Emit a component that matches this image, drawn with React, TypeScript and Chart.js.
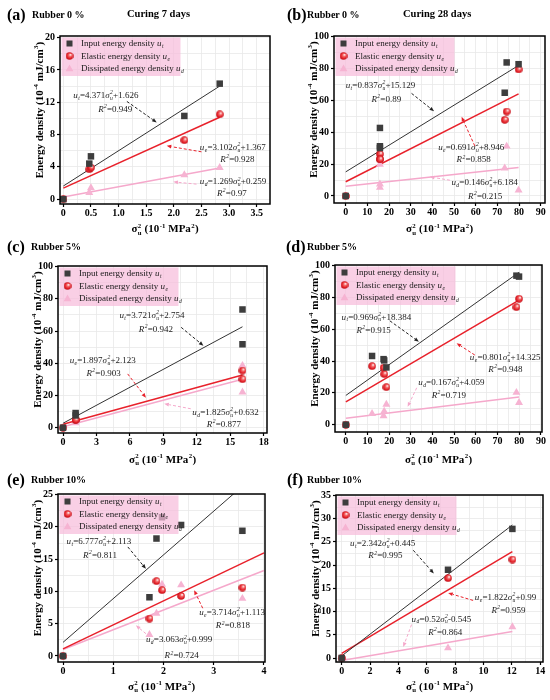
import React, { useEffect, useRef } from 'react';
import { Chart, registerables, Plugin } from 'chart.js';

Chart.register(...registerables);

// ---------- data ----------
// (a) Rubber 0 %, curing 7 days
const aStress = [0, 0.47, 0.5, 2.19, 2.83];
const aInput = [0, 4.4, 5.3, 10.3, 14.3];
const aElastic = [0, 3.7, 3.9, 7.3, 10.5];
const aDissipated = [0, 0.8, 1.4, 3.0, 3.9];
const aSlope = [4.371, 3.102, 1.269];
const aIntercept = [1.626, 1.367, 0.259];
const aR2 = ['0.949', '0.928', '0.97'];
const aXTicks = [0, 0.5, 1, 1.5, 2, 2.5, 3, 3.5];
const aYTicks = [0, 4, 8, 12, 16, 20];

// (b) Rubber 0 %, curing 28 days
const bStress = [0, 15.8, 15.8, 15.8, 73.4, 74.3, 79.8];
const bInput = [0, 42.7, 31.2, 30.1, 64.8, 83.8, 82.7];
const bElastic = [0, 23.2, 26.3, 23.0, 47.8, 53.0, 79.4];
const bDissipated = [0, 19.8, 5.3, 7.4, 17.5, 31.2, 3.6];
const bSlope = [0.837, 0.691, 0.146];
const bIntercept = [15.129, 8.946, 6.184];
const bR2 = ['0.89', '0.858', '0.215'];
const bXTicks = [0, 10, 20, 30, 40, 50, 60, 70, 80, 90];
const bYTicks = [0, 20, 40, 60, 80, 100];

// (c) Rubber 5%, curing 7 days
const cStress = [0, 1.13, 1.13, 16.1, 16.1];
const cInput = [0, 9.1, 7.6, 73.4, 51.8];
const cElastic = [0, 5.0, 4.8, 35.5, 30.1];
const cDissipated = [0, 4.0, 2.9, 38.6, 22.1];
const cSlope = [3.721, 1.897, 1.825];
const cIntercept = [2.754, 2.123, 0.632];
const cR2 = ['0.942', '0.903', '0.877'];
const cXTicks = [0, 3, 6, 9, 12, 15, 18];
const cYTicks = [0, 20, 40, 60, 80, 100];

// (d) Rubber 5%, curing 28 days
const dStress = [0, 12.1, 17.4, 17.7, 18.7, 78.7, 79.9];
const dInput = [0, 43.2, 41.2, 40.4, 36.0, 93.7, 93.1];
const dElastic = [0, 36.8, 35.8, 31.8, 23.6, 73.9, 79.2];
const dDissipated = [0, 6.9, 5.5, 8.4, 12.8, 20.2, 13.9];
const dSlope = [0.969, 0.801, 0.167];
const dIntercept = [18.384, 14.325, 4.059];
const dR2 = ['0.915', '0.948', '0.719'];
const dXTicks = [0, 10, 20, 30, 40, 50, 60, 70, 80, 90];
const dYTicks = [0, 20, 40, 60, 80, 100];

// (e) Rubber 10%, curing 7 days
const eStress = [0, 1.72, 1.86, 1.97, 2.35, 3.57];
const eInput = [0, 9.1, 18.2, 21.5, 20.3, 19.4];
const eElastic = [0, 5.8, 11.6, 10.2, 9.3, 10.6];
const eDissipated = [0, 3.3, 6.6, 11.1, 11.0, 8.9];
const eSlope = [6.777, 3.714, 3.063];
const eIntercept = [2.113, 1.113, 0.999];
const eR2 = ['0.811', '0.818', '0.724'];
const eXTicks = [0, 1, 2, 3, 4];
const eYTicks = [0, 5, 10, 15, 20, 25];

// (f) Rubber 10%, curing 28 days
const fStress = [0, 7.5, 12.04];
const fInput = [0, 19.0, 27.8];
const fElastic = [0, 17.2, 21.2];
const fDissipated = [0, 2.15, 6.7];
const fSlope = [2.342, 1.822, 0.52];
const fIntercept = [0.445, 0.99, -0.545];
const fR2 = ['0.995', '0.959', '0.864'];
const fXTicks = [0, 2, 4, 6, 8, 10, 12, 14];
const fYTicks = [0, 5, 10, 15, 20, 25, 30, 35];

const seriesNames = ['Input energy density ', 'Elastic energy density ', 'Dissipated energy density '];
const seriesSubs = ['t', 'e', 'd'];

// ---------- styling ----------
const SERIF = "'Liberation Serif', 'Times New Roman', serif";
const BLACK = '#3d3d3d';
const RED = '#e8212b';
const PINK = '#f6b3d2';
const PINK_LINE = '#f5a8cb';
const GRID = '#e8e8e8';
const NOTE_SIZE = 9;
const LEGEND_SIZE = 9;

interface Note {
  eq: [number, number];
  r2: [number, number];
  arrow: [number, number, number, number];
}

interface Geo {
  left: number; top: number; h: number;
  plotL: number; plotR: number; plotT: number; plotB: number;
  xTitleY: number;
}

interface Panel {
  tag: string; tagX: number; rubber: string; rubberX: number;
  curing?: string; curingX?: number;
  x: number[]; input: number[]; elastic: number[]; dissipated: number[];
  slope: number[]; intercept: number[]; r2: string[];
  fitEnd: number;
  xMin: number; xMax: number; yMin: number; yMax: number;
  xTicks: number[]; yTicks: number[]; xDec: number;
  geo: Geo;
  notes: Note[];
}

const panels: Panel[] = [
  {
    tag: '(a)', tagX: 7, rubber: 'Rubber 0 %', rubberX: 32, curing: 'Curing 7 days', curingX: 127,
    x: aStress, input: aInput, elastic: aElastic, dissipated: aDissipated,
    slope: aSlope, intercept: aIntercept, r2: aR2, fitEnd: 2.83,
    xMin: -0.06, xMax: 3.74, yMin: -0.6, yMax: 20.2, xTicks: aXTicks, yTicks: aYTicks, xDec: 1,
    geo: { left: 0, top: 0, h: 240, plotL: 60, plotR: 270, plotT: 36, plotB: 204, xTitleY: 228.5 },
    notes: [
      { eq: [0.18, 12.9], r2: [0.63, 11.2], arrow: [1.15, 12.1, 1.69, 9.5] },
      { eq: [2.47, 6.5], r2: [2.84, 4.95], arrow: [2.5, 5.86, 1.87, 6.6] },
      { eq: [2.47, 2.2], r2: [2.78, 0.8], arrow: [2.41, 1.86, 1.99, 2.14] },
    ],
  },
  {
    tag: '(b)', tagX: 12, rubber: 'Rubber 0 %', rubberX: 32, curing: 'Curing 28 days', curingX: 128,
    x: bStress, input: bInput, elastic: bElastic, dissipated: bDissipated,
    slope: bSlope, intercept: bIntercept, r2: bR2, fitEnd: 79.8,
    xMin: -5.4, xMax: 92, yMin: -4.4, yMax: 100.4, xTicks: bXTicks, yTicks: bYTicks, xDec: 0,
    geo: { left: 275, top: 0, h: 240, plotL: 59, plotR: 270, plotT: 36, plotB: 203, xTitleY: 228.5 },
    notes: [
      { eq: [0, 69.6], r2: [11.9, 60.8], arrow: [30.4, 64.4, 40.8, 53.2] },
      { eq: [42.7, 30.8], r2: [51.2, 22.9], arrow: [59.6, 31.4, 53.5, 49.7] },
      { eq: [48.8, 8.8], r2: [56.5, -0.2], arrow: [48.1, 9.9, 38.8, 12] },
    ],
  },
  {
    tag: '(c)', tagX: 7, rubber: 'Rubber 5%', rubberX: 31,
    x: cStress, input: cInput, elastic: cElastic, dissipated: cDissipated,
    slope: cSlope, intercept: cIntercept, r2: cR2, fitEnd: 16.1,
    xMin: -0.45, xMax: 18.3, yMin: -3.3, yMax: 100.4, xTicks: cXTicks, yTicks: cYTicks, xDec: 0,
    geo: { left: 0, top: 232, h: 240, plotL: 58, plotR: 267, plotT: 34, plotB: 201, xTitleY: 227 },
    notes: [
      { eq: [5.06, 70.1], r2: [6.8, 61.2], arrow: [10.6, 62.3, 12.6, 50.9] },
      { eq: [0.6, 42.1], r2: [2.1, 34.2], arrow: [5.8, 33.4, 7.44, 18.6] },
      { eq: [11.6, 9.7], r2: [12.9, 2.1], arrow: [11.46, 11.75, 9.08, 14.85] },
    ],
  },
  {
    tag: '(d)', tagX: 11, rubber: 'Rubber 5%', rubberX: 32,
    x: dStress, input: dInput, elastic: dElastic, dissipated: dDissipated,
    slope: dSlope, intercept: dIntercept, r2: dR2, fitEnd: 79.9,
    xMin: -5, xMax: 90.5, yMin: -4.6, yMax: 100.4, xTicks: dXTicks, yTicks: dYTicks, xDec: 0,
    geo: { left: 275, top: 232, h: 240, plotL: 60, plotR: 267, plotT: 33, plotB: 200, xTitleY: 227 },
    notes: [
      { eq: [-2, 68], r2: [4.9, 59.6], arrow: [20.3, 65.3, 33.7, 52.2] },
      { eq: [57.2, 42.7], r2: [65.7, 35], arrow: [59.5, 43.8, 51.1, 51.2] },
      { eq: [33.4, 27], r2: [39.6, 18.9], arrow: [32.7, 23.2, 28.5, 11.2] },
    ],
  },
  {
    tag: '(e)', tagX: 7, rubber: 'Rubber 10%', rubberX: 31,
    x: eStress, input: eInput, elastic: eElastic, dissipated: eDissipated,
    slope: eSlope, intercept: eIntercept, r2: eR2, fitEnd: 4,
    xMin: -0.1, xMax: 4.02, yMin: -0.93, yMax: 25.1, xTicks: eXTicks, yTicks: eYTicks, xDec: 0,
    geo: { left: 0, top: 465, h: 235, plotL: 58, plotR: 265, plotT: 29, plotB: 197, xTitleY: 221 },
    notes: [
      { eq: [0.07, 17.8], r2: [0.4, 15.7], arrow: [1.29, 16.9, 1.65, 13.5] },
      { eq: [2.71, 6.8], r2: [3.04, 4.75], arrow: [2.78, 7.4, 2.61, 10.2] },
      { eq: [1.65, 2.58], r2: [2.02, 0.1], arrow: [1.65, 3.46, 1.45, 4.75] },
    ],
  },
  {
    tag: '(f)', tagX: 12, rubber: 'Rubber 10%', rubberX: 32,
    x: fStress, input: fInput, elastic: fElastic, dissipated: fDissipated,
    slope: fSlope, intercept: fIntercept, r2: fR2, fitEnd: 12.04,
    xMin: -0.4, xMax: 14.2, yMin: -0.86, yMax: 35.1, xTicks: fXTicks, yTicks: fYTicks, xDec: 0,
    geo: { left: 275, top: 465, h: 235, plotL: 61, plotR: 268, plotT: 30, plotB: 197, xTitleY: 221 },
    notes: [
      { eq: [0.59, 24.8], r2: [1.88, 22.1], arrow: [5.05, 23.2, 6.5, 18.2] },
      { eq: [9.39, 13.1], r2: [10.56, 10.3], arrow: [9.27, 12.4, 7.51, 14] },
      { eq: [4.93, 8.5], r2: [6.1, 5.6], arrow: [4.93, 7.2, 4.34, 2.37] },
    ],
  },
];

// ---------- rich text helpers ----------
interface Seg { t: string; i?: boolean; sup?: string; sub?: string }

const fontStr = (size: number, bold: boolean, italic: boolean) =>
  `${italic ? 'italic ' : ''}${bold ? 'bold ' : ''}${size}px ${SERIF}`;

function richWidth(ctx: CanvasRenderingContext2D, segs: Seg[], size: number, bold: boolean) {
  let w = 0;
  for (const s of segs) {
    ctx.font = fontStr(size, bold, !!s.i);
    w += ctx.measureText(s.t).width;
    ctx.font = fontStr(size * 0.62, bold, !!s.i);
    let sw = 0;
    if (s.sup) sw = Math.max(sw, ctx.measureText(s.sup).width);
    if (s.sub) sw = Math.max(sw, ctx.measureText(s.sub).width);
    if (sw) w += sw + 0.6;
  }
  return w;
}

function drawRich(
  ctx: CanvasRenderingContext2D, segs: Seg[], x: number, y: number,
  size: number, color: string, bold: boolean, align: 'left' | 'center'
) {
  ctx.save();
  ctx.fillStyle = color;
  ctx.textAlign = 'left';
  ctx.textBaseline = 'alphabetic';
  const base = y + size * 0.33;
  let cx = align === 'center' ? x - richWidth(ctx, segs, size, bold) / 2 : x;
  for (const s of segs) {
    ctx.font = fontStr(size, bold, !!s.i);
    ctx.fillText(s.t, cx, base);
    cx += ctx.measureText(s.t).width;
    ctx.font = fontStr(size * 0.62, bold, !!s.i);
    let sw = 0;
    if (s.sup) {
      ctx.fillText(s.sup, cx + 0.4, base - size * 0.42);
      sw = Math.max(sw, ctx.measureText(s.sup).width);
    }
    if (s.sub) {
      ctx.fillText(s.sub, cx + 0.4, base + size * 0.22);
      sw = Math.max(sw, ctx.measureText(s.sub).width);
    }
    if (sw) cx += sw + 0.6;
  }
  ctx.restore();
}

function drawArrow(ctx: CanvasRenderingContext2D, x1: number, y1: number, x2: number, y2: number, color: string) {
  const ang = Math.atan2(y2 - y1, x2 - x1);
  const hl = 5;
  ctx.save();
  ctx.strokeStyle = color;
  ctx.fillStyle = color;
  ctx.lineWidth = 1;
  ctx.setLineDash([3, 2]);
  ctx.beginPath();
  ctx.moveTo(x1, y1);
  ctx.lineTo(x2 - hl * Math.cos(ang), y2 - hl * Math.sin(ang));
  ctx.stroke();
  ctx.setLineDash([]);
  ctx.beginPath();
  ctx.moveTo(x2, y2);
  ctx.lineTo(x2 - hl * Math.cos(ang - 0.38), y2 - hl * Math.sin(ang - 0.38));
  ctx.lineTo(x2 - hl * Math.cos(ang + 0.38), y2 - hl * Math.sin(ang + 0.38));
  ctx.closePath();
  ctx.fill();
  ctx.restore();
}

function makeSphere(d = 8) {
  const c = document.createElement('canvas');
  c.width = d;
  c.height = d;
  const g = c.getContext('2d')!;
  const grad = g.createRadialGradient(d * 0.64, d * 0.34, 0.3, d / 2, d / 2, d / 2);
  grad.addColorStop(0, '#ffffff');
  grad.addColorStop(0.28, '#f57070');
  grad.addColorStop(0.7, '#e41c24');
  grad.addColorStop(1, '#b5121a');
  g.fillStyle = grad;
  g.beginPath();
  g.arc(d / 2, d / 2, d / 2 - 0.2, 0, Math.PI * 2);
  g.fill();
  return c;
}

const withMinor = (major: number[]) => {
  const out: number[] = [];
  major.forEach((v, i) => {
    out.push(v);
    if (i < major.length - 1) out.push((v + major[i + 1]) / 2);
  });
  return out;
};
const isMajor = (major: number[], v: number) => major.some(m => Math.abs(m - v) < 1e-9);

const fmtNum = (v: number) => (v < 0 ? '-' + Math.abs(v) : '+' + v);

function eqSegs(p: Panel, k: number): Seg[] {
  return [
    { t: 'u', i: true, sub: seriesSubs[k] },
    { t: '=' + p.slope[k] },
    { t: 'σ', i: true, sup: '2', sub: 'u' },
    { t: fmtNum(p.intercept[k]) },
  ];
}

const overlay = (p: Panel, sphere: HTMLCanvasElement): Plugin<'scatter'> => ({
  id: 'overlay',
  afterDatasetsDraw(chart) {
    const { ctx, chartArea: a, scales } = chart;
    const X = (v: number) => scales.x.getPixelForValue(v);
    const Y = (v: number) => scales.y.getPixelForValue(v);
    const arrowColors = ['#222222', RED, PINK_LINE];

    // fit equations and arrows
    p.notes.forEach((n, k) => {
      drawArrow(ctx, X(n.arrow[0]), Y(n.arrow[1]), X(n.arrow[2]), Y(n.arrow[3]), arrowColors[k]);
      drawRich(ctx, eqSegs(p, k), X(n.eq[0]), Y(n.eq[1]), NOTE_SIZE, '#1a1a1a', false, 'left');
      drawRich(ctx, [{ t: 'R', i: true, sup: '2' }, { t: '=' + p.r2[k] }], X(n.r2[0]), Y(n.r2[1]), NOTE_SIZE, '#1a1a1a', false, 'left');
    });

    // legend box
    ctx.save();
    ctx.fillStyle = 'rgba(246,188,219,0.72)';
    ctx.fillRect(a.left + 1.5, a.top + 1.5, 119, 38.5);
    const rows = [7.5, 20, 32.3];
    const mx = a.left + 9.5;
    rows.forEach((r, k) => {
      const yy = a.top + r;
      if (k === 0) {
        ctx.fillStyle = BLACK;
        ctx.fillRect(mx - 3, yy - 3, 6, 6);
      } else if (k === 1) {
        ctx.drawImage(sphere, mx - sphere.width / 2, yy - sphere.height / 2);
      } else {
        ctx.fillStyle = PINK;
        ctx.beginPath();
        const rr = 4.5;
        for (let j = 0; j < 3; j++) {
          const ang = (j * 2 * Math.PI) / 3;
          const px = mx + Math.sin(ang) * rr;
          const py = yy + 0.8 - Math.cos(ang) * rr;
          if (j === 0) ctx.moveTo(px, py); else ctx.lineTo(px, py);
        }
        ctx.closePath();
        ctx.fill();
      }
      drawRich(ctx, [{ t: seriesNames[k] }, { t: 'u', i: true, sub: seriesSubs[k] }], a.left + 21, yy, LEGEND_SIZE, '#1a1a1a', false, 'left');
    });
    ctx.restore();

    // frame
    ctx.save();
    ctx.strokeStyle = '#000';
    ctx.lineWidth = 1.5;
    ctx.strokeRect(a.left, a.top, a.right - a.left, a.bottom - a.top);
    ctx.restore();
  },
  afterDraw(chart) {
    const { ctx, chartArea: a } = chart;
    const g = p.geo;
    // x title
    drawRich(ctx, [
      { t: 'σ', sup: '2', sub: 'u' },
      { t: ' (10', sup: '-1' },
      { t: ' MPa', sup: '2' },
      { t: ')' },
    ], (a.left + a.right) / 2, g.xTitleY, 11, '#000', true, 'center');
    // y title
    ctx.save();
    ctx.translate(a.left - 21, (a.top + a.bottom) / 2 - 10);
    ctx.rotate(-Math.PI / 2);
    drawRich(ctx, [
      { t: 'Energy density (10', sup: '-4' },
      { t: ' mJ/cm', sup: '3' },
      { t: ')' },
    ], 0, 0, 11, '#000', true, 'center');
    ctx.restore();
  },
});

const PanelChart: React.FC<{ p: Panel }> = ({ p }) => {
  const chartRef = useRef<HTMLCanvasElement>(null);

  useEffect(() => {
    if (!chartRef.current) return;
    const sphere = makeSphere();
    const g = p.geo;
    const pts = (ys: number[]) => p.x.map((x, i) => ({ x, y: ys[i] }));
    const fit = (k: number) => [0, p.fitEnd].map(x => ({ x, y: p.slope[k] * x + p.intercept[k] }));
    const tickFont = { family: SERIF, size: 10, weight: 'bold' as const, lineHeight: 1 };

    const chart = new Chart(chartRef.current, {
      type: 'scatter',
      data: {
        datasets: [
          { label: 'Input', data: pts(p.input), pointStyle: 'rect', pointRadius: 4.6, backgroundColor: BLACK, borderWidth: 0 },
          { label: 'Elastic', data: pts(p.elastic), pointStyle: sphere, pointRadius: 4, backgroundColor: RED, borderWidth: 0 },
          { label: 'Dissipated', data: pts(p.dissipated), pointStyle: 'triangle', pointRadius: 4.6, backgroundColor: PINK, borderWidth: 0 },
          { label: 'fit t', data: fit(0), showLine: true, borderColor: '#333333', borderWidth: 1, pointRadius: 0 },
          { label: 'fit e', data: fit(1), showLine: true, borderColor: RED, borderWidth: 1.5, pointRadius: 0 },
          { label: 'fit d', data: fit(2), showLine: true, borderColor: PINK_LINE, borderWidth: 1.5, pointRadius: 0 },
        ],
      },
      options: {
        animation: false,
        responsive: false,
        events: [],
        layout: { padding: { left: 0, top: g.plotT, right: 275 - g.plotR, bottom: 0 } },
        plugins: { legend: { display: false }, tooltip: { enabled: false }, title: { display: false } },
        scales: {
          x: {
            type: 'linear',
            min: p.xMin,
            max: p.xMax,
            afterBuildTicks: (s: any) => { s.ticks = withMinor(p.xTicks).map(v => ({ value: v })); },
            afterFit: (s: any) => { s.height = g.h - g.plotB; },
            border: { display: false },
            grid: {
              color: GRID,
              lineWidth: 0.8,
              tickLength: 3,
              tickWidth: 1.2,
              tickColor: (c: any) => (isMajor(p.xTicks, c.tick.value) ? '#000' : 'rgba(0,0,0,0)'),
            },
            ticks: {
              autoSkip: false,
              maxRotation: 0,
              minRotation: 0,
              padding: 1,
              color: '#000',
              font: tickFont,
              callback: (v: any) => {
                const n = Number(v);
                if (!isMajor(p.xTicks, n)) return '';
                return n === 0 ? '0' : n.toFixed(p.xDec);
              },
            },
          },
          y: {
            type: 'linear',
            min: p.yMin,
            max: p.yMax,
            afterBuildTicks: (s: any) => { s.ticks = withMinor(p.yTicks).map(v => ({ value: v })); },
            afterFit: (s: any) => { s.width = g.plotL; },
            border: { display: false },
            grid: {
              color: GRID,
              lineWidth: 0.8,
              tickLength: 3,
              tickWidth: 1.2,
              tickColor: (c: any) => (isMajor(p.yTicks, c.tick.value) ? '#000' : 'rgba(0,0,0,0)'),
            },
            ticks: {
              autoSkip: false,
              padding: 2,
              color: '#000',
              font: tickFont,
              callback: (v: any) => (isMajor(p.yTicks, Number(v)) ? String(Number(v)) : ''),
            },
          },
        },
      },
      plugins: [overlay(p, sphere)],
    });

    return () => {
      chart.destroy();
    };
  }, [p]);

  const g = p.geo;
  const head: React.CSSProperties = {
    position: 'absolute',
    top: 15,
    transform: 'translateY(-50%)',
    fontFamily: SERIF,
    fontWeight: 'bold',
    lineHeight: 1,
    whiteSpace: 'nowrap',
    color: '#000',
  };

  return (
    <div style={{ position: 'absolute', left: g.left, top: g.top, width: 275, height: g.h }}>
      <canvas ref={chartRef} width={275} height={g.h} style={{ position: 'absolute', left: 0, top: 0 }} />
      <span style={{ ...head, left: p.tagX, fontSize: 16 }}>{p.tag}</span>
      <span style={{ ...head, left: p.rubberX, fontSize: 10 }}>{p.rubber}</span>
      {p.curing && <span style={{ ...head, left: p.curingX, fontSize: 10.5, top: 14 }}>{p.curing}</span>}
    </div>
  );
};

const App: React.FC = () => (
  <div style={{ position: 'absolute', left: 0, top: 0, width: 550, height: 700, background: '#fff', overflow: 'hidden' }}>
    {panels.map(p => (
      <PanelChart key={p.tag} p={p} />
    ))}
  </div>
);

export default App;
